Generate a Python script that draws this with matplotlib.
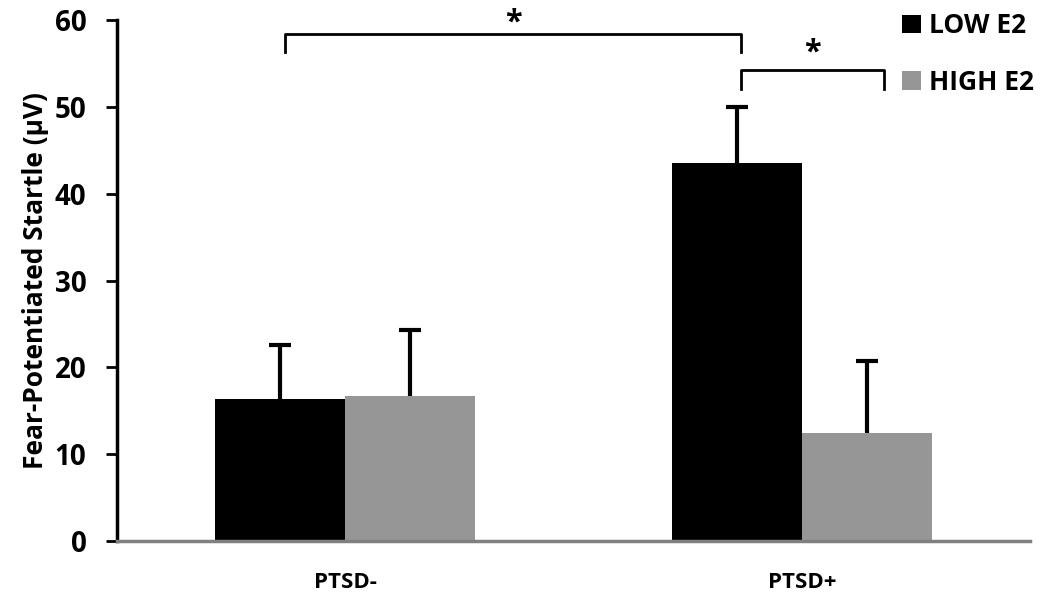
import matplotlib
matplotlib.use("Agg")
import matplotlib.pyplot as plt
import numpy as np

groups = ["PTSD-", "PTSD+"]
series = ["LOW E2", "HIGH E2"]
low_vals = [16.4, 43.5]
low_err = [6.2, 6.5]
high_vals = [16.7, 12.4]
high_err = [7.6, 8.3]
colors = ["#000000", "#969696"]

plt.rcParams['font.family'] = ['Open Sans', 'DejaVu Sans']
plt.rcParams['font.weight'] = 'bold'

fig = plt.figure(figsize=(10.5, 6.02), dpi=100)
ax = fig.add_axes([0.1114, 0.1013, 0.8696, 0.8655])

x = np.arange(len(groups))
w = 0.285
for offset, vals, errs, col, lab in [(-w/2, low_vals, low_err, colors[0], series[0]),
                                     (w/2, high_vals, high_err, colors[1], series[1])]:
    pos = x + offset
    ax.bar(pos, vals, w, color=col, label=lab, zorder=2)
    tops = np.array(vals) + np.array(errs)
    ax.vlines(pos, vals, tops, color='black', lw=3, zorder=3)
    ax.plot(pos, tops, linestyle='none', marker='_', markersize=16, markeredgewidth=3,
            color='black', zorder=3)

ax.set_xlim(-0.5, 1.5)
ax.set_ylim(0, 60)
ax.set_yticks(np.arange(0, 61, 10))
ax.set_xticks(x)
ax.set_xticklabels(groups, fontsize=16, fontweight='bold')
ax.tick_params(axis='x', length=0, pad=22)
ax.tick_params(axis='y', length=8, width=2, labelsize=20, pad=14)
for lbl in ax.get_yticklabels():
    lbl.set_fontweight('bold')
ax.set_ylabel("Fear-Potentiated Startle (µV)", fontsize=19, fontweight='bold', labelpad=4)

for s in ['top', 'right']:
    ax.spines[s].set_visible(False)
ax.spines['left'].set_linewidth(2.5)
ax.spines['bottom'].set_color('#808080')
ax.spines['bottom'].set_linewidth(2.5)

# significance brackets
def bracket(x0, x1, ytop, ybot, star_y):
    ax.plot([x0, x0, x1, x1], [ybot, ytop, ytop, ybot], color='black', lw=2, clip_on=False)
    ax.text((x0 + x1) / 2, star_y, "*", ha='center', va='center', fontsize=22, fontweight='bold')

bracket(x[0] - w/2 + 0.01, x[1] - w/2 + 0.01, 58.4, 56.3, 59.7)
bracket(x[1] - w/2 + 0.01, x[1] + 0.18, 54.2, 52.0, 56.3)

leg = ax.legend(loc='upper right', bbox_to_anchor=(1.03, 1.06), frameon=False, fontsize=19,
                handlelength=0.7, handleheight=0.7, handletextpad=0.3, labelspacing=1.1)
for t in leg.get_texts():
    t.set_fontweight('bold')

fig.savefig("out.png", dpi=100)
